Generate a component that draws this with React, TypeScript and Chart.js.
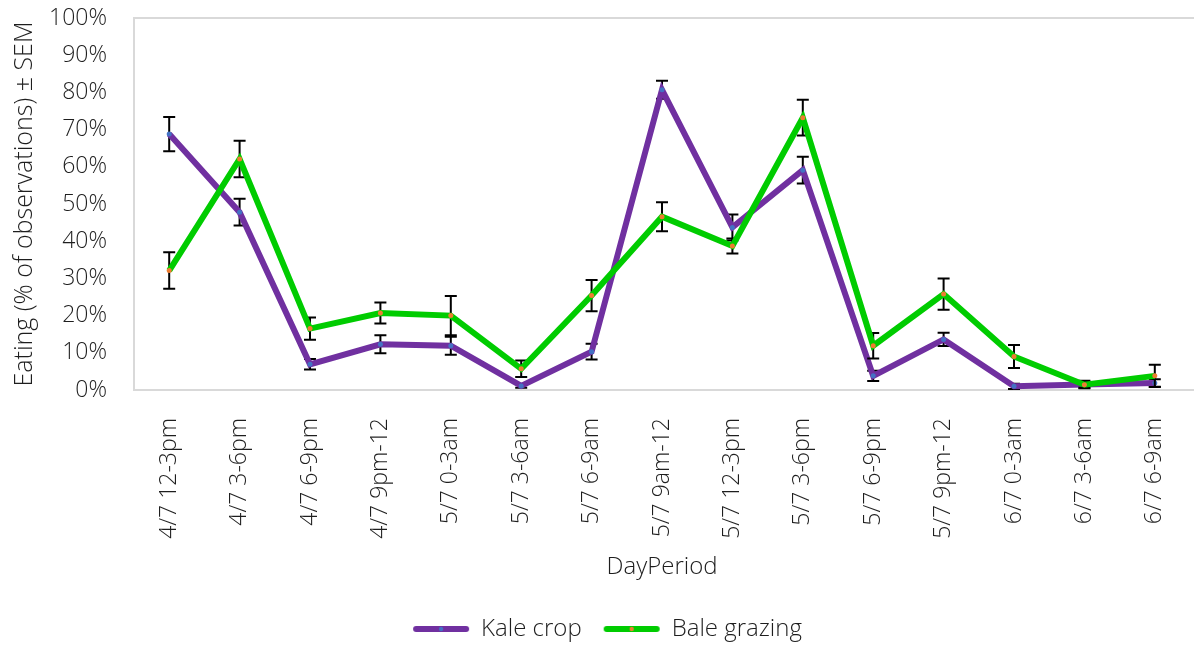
import React, { useEffect, useRef } from "react";
import { Chart, registerables } from "chart.js";

Chart.register(...registerables);

const categories = [
  "4/7 12-3pm", "4/7 3-6pm", "4/7 6-9pm", "4/7 9pm-12", "5/7 0-3am",
  "5/7 3-6am", "5/7 6-9am", "5/7 9am-12", "5/7 12-3pm", "5/7 3-6pm",
  "5/7 6-9pm", "5/7 9pm-12", "6/7 0-3am", "6/7 3-6am", "6/7 6-9am",
];
const kaleCrop = [68.8, 47.8, 6.9, 12.3, 11.9, 1.1, 10.3, 80.7, 43.7, 59.1, 3.8, 13.6, 1.0, 1.5, 1.9];
const kaleSem = [4.6, 3.6, 1.4, 2.4, 2.4, 0.5, 2.1, 2.4, 3.5, 3.6, 1.4, 1.8, 0.7, 1.0, 1.0];
const baleGrazing = [32.1, 62.1, 16.5, 20.7, 20.0, 5.7, 25.4, 46.6, 38.7, 73.2, 11.9, 25.8, 9.0, 1.4, 3.8];
const baleSem = [4.9, 4.9, 3.0, 2.8, 5.3, 2.2, 4.2, 3.9, 2.0, 4.8, 3.4, 4.2, 3.1, 0.8, 3.0];
const yTicks = [0, 10, 20, 30, 40, 50, 60, 70, 80, 90, 100];

const FONT = "'Open Sans', 'Noto Sans', sans-serif";
const TEXT = "#1e1e1e";
const TICK_SIZE = 23;
const TITLE_SIZE = 24;

function legendSwatch(lineColor: string, dotColor: string): HTMLCanvasElement {
  const c = document.createElement("canvas");
  c.width = 58;
  c.height = 10;
  const g = c.getContext("2d")!;
  g.strokeStyle = lineColor;
  g.lineWidth = 6;
  g.lineCap = "round";
  g.beginPath();
  g.moveTo(4, 5);
  g.lineTo(54, 5);
  g.stroke();
  g.fillStyle = dotColor;
  g.beginPath();
  g.arc(29, 5, 2.2, 0, Math.PI * 2);
  g.fill();
  return c;
}

const errorBarPlugin = {
  id: "errorBars",
  beforeDatasetDraw(chart: any, args: any) {
    const ds = chart.data.datasets[args.index];
    const sem: number[] = ds.sem;
    if (!sem) return;
    const ctx = chart.ctx;
    const y = chart.scales.y;
    ctx.save();
    ctx.strokeStyle = "#000000";
    ctx.lineWidth = 2;
    args.meta.data.forEach((pt: any, i: number) => {
      const v = ds.data[i];
      const e = sem[i];
      const top = y.getPixelForValue(v + e);
      const bot = y.getPixelForValue(Math.max(0, v - e));
      const x = pt.x;
      ctx.beginPath();
      ctx.moveTo(x, top);
      ctx.lineTo(x, bot);
      ctx.moveTo(x - 6, top);
      ctx.lineTo(x + 6, top);
      ctx.moveTo(x - 6, bot);
      ctx.lineTo(x + 6, bot);
      ctx.stroke();
    });
    ctx.restore();
  },
};

const plotBorderPlugin = {
  id: "plotBorder",
  beforeDatasetsDraw(chart: any) {
    const { ctx, chartArea } = chart;
    ctx.save();
    ctx.strokeStyle = "#d9d9d9";
    ctx.lineWidth = 2;
    ctx.beginPath();
    ctx.moveTo(chart.width, chartArea.top);
    ctx.lineTo(chartArea.left, chartArea.top);
    ctx.lineTo(chartArea.left, chartArea.bottom);
    ctx.lineTo(chart.width, chartArea.bottom);
    ctx.stroke();
    ctx.restore();
  },
};

export default function App() {
  const ref = useRef<HTMLCanvasElement>(null);
  useEffect(() => {
    if (!ref.current) return;
    const swatches = [legendSwatch("#7030A0", "#4472C4"), legendSwatch("#00CC00", "#ED7D31")];
    const chart = new Chart(ref.current, {
      type: "line",
      data: {
        labels: categories,
        datasets: [
          {
            label: "Kale crop",
            data: kaleCrop,
            sem: kaleSem,
            borderColor: "#7030A0",
            backgroundColor: "#7030A0",
            borderWidth: 6,
            pointRadius: 2.5,
            pointBackgroundColor: "#4472C4",
            pointBorderWidth: 0,
            tension: 0,
            order: 1,
          } as any,
          {
            label: "Bale grazing",
            data: baleGrazing,
            sem: baleSem,
            borderColor: "#00CC00",
            backgroundColor: "#00CC00",
            borderWidth: 6,
            pointRadius: 2.5,
            pointBackgroundColor: "#ED7D31",
            pointBorderWidth: 0,
            tension: 0,
            order: 0,
          } as any,
        ],
      },
      options: {
        responsive: false,
        animation: false,
        events: [],
        layout: { padding: { top: 18, right: 0, bottom: -6, left: 21 } },
        plugins: {
          tooltip: { enabled: false },
          legend: {
            position: "bottom",
            labels: {
              font: { family: FONT, size: TITLE_SIZE, weight: 300 },
              color: TEXT,
              usePointStyle: true,
              pointStyleWidth: 56,
              boxHeight: 10,
              padding: 22,
              generateLabels: (c: any) =>
                Chart.defaults.plugins.legend.labels.generateLabels(c).map((item: any) => ({
                  ...item,
                  pointStyle: swatches[item.datasetIndex],
                })),
              sort: (a: any, b: any) => a.datasetIndex - b.datasetIndex,
            },
          },
        },
        scales: {
          x: {
            type: "category",
            offset: true,
            afterFit(scale: any) {
              scale.height = 205;
              scale.paddingLeft = 0;
              scale.paddingRight = 0;
              scale.paddingTop = 0;
              scale.paddingBottom = 0;
            },
            grid: { display: false, drawTicks: false },
            border: { display: false },
            ticks: {
              minRotation: 90,
              maxRotation: 90,
              autoSkip: false,
              padding: 28,
              color: TEXT,
              font: { family: FONT, size: TICK_SIZE, weight: 300 },
            },
            title: {
              display: true,
              text: "DayPeriod",
              color: TEXT,
              font: { family: FONT, size: TITLE_SIZE, weight: 300 },
              padding: { top: 0, bottom: 13 },
            },
          },
          y: {
            min: 0,
            max: 100,
            afterFit(scale: any) {
              scale.width = 113;
              scale.paddingTop = 0;
              scale.paddingBottom = 0;
              scale.paddingLeft = 0;
              scale.paddingRight = 0;
            },
            afterBuildTicks(scale: any) {
              scale.ticks = yTicks.map((v) => ({ value: v }));
            },
            grid: { display: false, drawTicks: false },
            border: { display: false },
            ticks: {
              padding: 27,
              color: TEXT,
              font: { family: FONT, size: TICK_SIZE, weight: 300 },
              callback: (v: any) => v + "%",
            },
            title: {
              display: true,
              text: "Eating (% of observations) ± SEM",
              color: TEXT,
              font: { family: FONT, size: 25, weight: 300 },
              padding: { top: -11, bottom: 0 },
            },
          },
        },
      },
      plugins: [plotBorderPlugin, errorBarPlugin],
    });
    return () => chart.destroy();
  }, []);
  return (
    <div style={{ position: "fixed", left: 0, top: 0, width: 1194, height: 645, background: "#fff" }}>
      <canvas ref={ref} width={1194} height={645} />
    </div>
  );
}
